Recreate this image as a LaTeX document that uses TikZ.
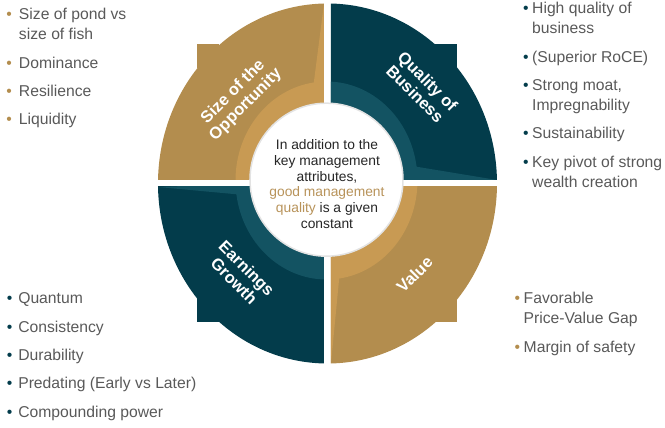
\documentclass[tikz,border=0pt]{standalone}
\usepackage{fontspec}
\setmainfont{Liberation Sans}
\usepackage{tikz}
\usepackage{xcolor}
\definecolor{wheelgold}{HTML}{B38D4E}
\definecolor{wheelgoldlight}{HTML}{C89A53}
\definecolor{wheelteal}{HTML}{033C4B}
\definecolor{wheelteallight}{HTML}{135362}
\definecolor{itemgray}{HTML}{595959}
\definecolor{notedark}{HTML}{262626}
\definecolor{notegold}{HTML}{B8935A}
\newcommand{\golddot}{\textcolor{wheelgold}{\textbullet}}
\newcommand{\tealdot}{\textcolor{wheelteal}{\textbullet}}
\tikzset{
    quad-label/.style = {text=white, font=\fontsize{16.5}{17.8}\selectfont\bfseries, align=center, inner sep=0pt},
    point-list/.style = {text=itemgray, font=\fontsize{15.7}{20.3}\selectfont, anchor=base west, inner sep=0pt},
    core-disc/.style = {circle, fill=white, draw=gray!22, line width=1.5pt, minimum size=153pt, inner sep=0pt},
    core-note/.style = {text=notedark, font=\fontsize{13.8}{15.7}\selectfont, align=center, inner sep=0pt},
}

\begin{document}
\begin{tikzpicture}[x=1pt, y=1pt]
\useasboundingbox (-327.5,-244.5) rectangle (337.5,183.5);
\coordinate (hub) at (-1,3);

\begin{scope}
    \clip (-175,3.5) rectangle (-3.5,185);
    \fill[wheelgold] (0,0) ellipse [x radius=169.5, y radius=180];
    \fill[wheelgold] (-130,115) rectangle (-108,139);
    \fill[wheelgoldlight] (hub) ++(98:91 and 99) arc[start angle=98, end angle=180, x radius=91, y radius=99] -- (hub) -- (-3.5,180) -- cycle;
\end{scope}
\begin{scope}
    \clip (3.5,3.5) rectangle (175,185);
    \fill[wheelteal] (0,0) ellipse [x radius=169.5, y radius=180];
    \fill[wheelteal] (108,115) rectangle (130,139);
    \fill[wheelteallight] (hub) ++(8:91 and 99) arc[start angle=8, end angle=90, x radius=91, y radius=99] -- (hub) -- (169.5,3.5) -- cycle;
\end{scope}
\begin{scope}
    \clip (-175,-185) rectangle (-3.5,-3.5);
    \fill[wheelteal] (0,0) ellipse [x radius=169.5, y radius=180];
    \fill[wheelteal] (-130,-139) rectangle (-108,-115);
    \fill[wheelteallight] (hub) ++(188:91 and 99) arc[start angle=188, end angle=270, x radius=91, y radius=99] -- (hub) -- (-169.5,-3.5) -- cycle;
\end{scope}
\begin{scope}
    \clip (3.5,-185) rectangle (175,-3.5);
    \fill[wheelgold] (0,0) ellipse [x radius=169.5, y radius=180];
    \fill[wheelgold] (108,-139) rectangle (130,-115);
    \fill[wheelgoldlight] (hub) ++(278:91 and 99) arc[start angle=278, end angle=360, x radius=91, y radius=99] -- (hub) -- (3.5,-180) -- cycle;
\end{scope}

\node[core-disc] (core) at (-1,3.8) {};
\node[core-note] (note) at (-0.5,-0.5) {In addition to the\\key management\\attributes,\\\textcolor{notegold}{good management}\\\textcolor{notegold}{quality} is a given\\constant};

\node[quad-label, rotate=45] (opportunity) at (-88,85) {Size of the\\Opportunity};
\node[quad-label, rotate=-45] (quality) at (94,96) {Quality of\\Business};
\node[quad-label, rotate=-45] (earnings) at (-87,-91) {Earnings\\Growth};
\node[quad-label, rotate=45] (value) at (87,-91) {Value};

\node[point-list] (opportunity-points) at (-321.2,164) {\begin{tabular}[t]{@{}l@{\hspace{7pt}}l@{}}
    \golddot & Size of pond vs\\ & size of fish\\[8pt]
    \golddot & Dominance\\[8pt]
    \golddot & Resilience\\[8pt]
    \golddot & Liquidity
\end{tabular}};
\node[point-list] (quality-points) at (195.5,170) {\begin{tabular}[t]{@{}l@{\hspace{3.5pt}}l@{}}
    \tealdot & High quality of\\ & business\\[8pt]
    \tealdot & (Superior RoCE)\\[8pt]
    \tealdot & Strong moat,\\ & Impregnability\\[8pt]
    \tealdot & Sustainability\\[8pt]
    \tealdot & Key pivot of strong\\ & wealth creation
\end{tabular}};
\node[point-list] (earnings-points) at (-320.9,-120.4) {\begin{tabular}[t]{@{}l@{\hspace{6pt}}l@{}}
    \tealdot & Quantum\\[8pt]
    \tealdot & Consistency\\[8pt]
    \tealdot & Durability\\[8pt]
    \tealdot & Predating (Early vs Later)\\[8pt]
    \tealdot & Compounding power
\end{tabular}};
\node[point-list] (value-points) at (187,-120) {\begin{tabular}[t]{@{}l@{\hspace{3.5pt}}l@{}}
    \golddot & Favorable\\ & Price-Value Gap\\[8pt]
    \golddot & Margin of safety
\end{tabular}};
\end{tikzpicture}
\end{document}
